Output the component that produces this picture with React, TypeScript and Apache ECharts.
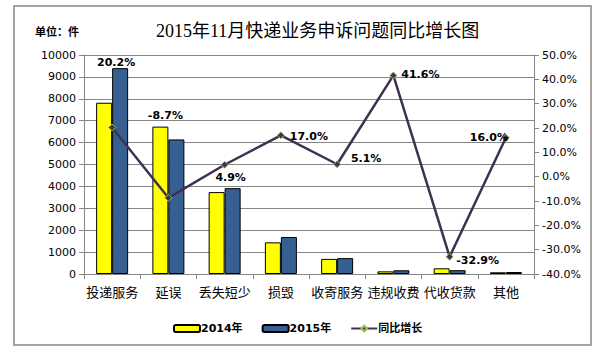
import React, { useEffect, useRef } from "react";
import * as echarts from "echarts";

const categories = ["投递服务", "延误", "丢失短少", "损毁", "收寄服务", "违规收费", "代收货款", "其他"];
const values2014 = [7820, 6730, 3740, 1445, 690, 120, 260, 78];
const values2015 = [9400, 6145, 3920, 1690, 725, 170, 174, 90];
const growth = [20.2, -8.7, 4.9, 17.0, 5.1, 41.6, -32.9, 16.0];
const leftTicks = { min: 0, max: 10000, interval: 1000 };
const rightTicks = { min: -40, max: 50, interval: 10 };
const labelOffsets: [number, number][] = [
  [4, -65], [-3, -82], [6, 13], [28, 1], [29, -6], [27, -1], [28, 4], [-17, 0],
];

const GRAY = "#868686";
const SANS = "'DejaVu Sans', 'Noto Sans CJK SC', sans-serif";
const CJK = "'Noto Sans CJK SC', sans-serif";

export default function App() {
  const ref = useRef<HTMLDivElement>(null);
  useEffect(() => {
    if (!ref.current) return;
    const chart = echarts.init(ref.current, undefined, { renderer: "svg" });
    chart.setOption({
      animation: false,
      backgroundColor: "#ffffff",
      title: {
        text: "2015年11月快递业务申诉问题同比增长图",
        left: 151,
        top: 17,
        textStyle: { fontFamily: "'Liberation Serif', 'Noto Sans CJK SC', serif", fontSize: 18, fontWeight: "normal", color: "#000" },
      },
      graphic: [
        {
          type: "rect",
          shape: { x: 14, y: 6, width: 577, height: 339 },
          style: { fill: "none", stroke: GRAY, lineWidth: 1.5 },
          silent: true,
        },
        {
          type: "text",
          x: 35,
          y: 25,
          style: { text: "单位：件", font: "bold 11px 'Noto Sans CJK SC'", fill: "#000" },
        },
      ],
      legend: {
        left: 168,
        top: 318,
        itemGap: 19,
        itemWidth: 26,
        itemHeight: 7,
        textStyle: { fontFamily: SANS, fontSize: 11, fontWeight: "bold", color: "#000", padding: [0, 0, 0, -4] },
        data: ["2014年", "2015年", "同比增长"],
      },
      grid: { left: 84, right: 81, top: 55, bottom: 80 },
      xAxis: {
        type: "category",
        data: categories,
        axisLine: { lineStyle: { color: GRAY } },
        axisTick: { show: true, length: 5, lineStyle: { color: GRAY } },
        axisLabel: { interval: 0, margin: 11, fontFamily: CJK, fontSize: 13, color: "#000" },
      },
      yAxis: [
        {
          type: "value",
          ...leftTicks,
          axisLine: { show: true, lineStyle: { color: GRAY } },
          axisTick: { show: true, length: 5, lineStyle: { color: GRAY } },
          splitLine: { show: true, lineStyle: { color: GRAY, width: 1 } },
          axisLabel: {
            margin: 8,
            fontFamily: SANS,
            fontSize: 11,
            color: "#000",
            formatter: (v: number) => String(v),
          },
        },
        {
          type: "value",
          ...rightTicks,
          axisLine: { show: true, lineStyle: { color: GRAY } },
          axisTick: { show: true, length: 5, lineStyle: { color: GRAY } },
          splitLine: { show: false },
          axisLabel: {
            margin: 8,
            fontFamily: SANS,
            fontSize: 11,
            color: "#000",
            formatter: (v: number) => v.toFixed(1) + "%",
          },
        },
      ],
      series: [
        {
          name: "2014年",
          type: "bar",
          data: values2014,
          barWidth: 16,
          barGap: "0%",
          itemStyle: { color: "#ffff00", borderColor: "#000", borderWidth: 1 },
        },
        {
          name: "2015年",
          type: "bar",
          data: values2015,
          barWidth: 16,
          barGap: "0%",
          itemStyle: { color: "#366092", borderColor: "#000", borderWidth: 1 },
        },
        {
          name: "同比增长",
          type: "line",
          yAxisIndex: 1,
          data: growth.map((v, i) => ({
            value: v,
            label: { offset: labelOffsets[i] },
          })),
          symbol: "diamond",
          symbolSize: 7,
          lineStyle: { color: "#403152", width: 2.5 },
          itemStyle: { color: "#403152", borderColor: "#9bbb59", borderWidth: 1 },
          label: {
            show: true,
            position: "inside",
            fontFamily: SANS,
            fontSize: 11,
            fontWeight: "bold",
            color: "#000",
            formatter: (p: any) => Number(p.value).toFixed(1) + "%",
          },
          z: 5,
        },
      ],
    });
    return () => chart.dispose();
  }, []);
  return <div ref={ref} style={{ position: "absolute", left: 0, top: 0, width: 615, height: 354 }} />;
}
